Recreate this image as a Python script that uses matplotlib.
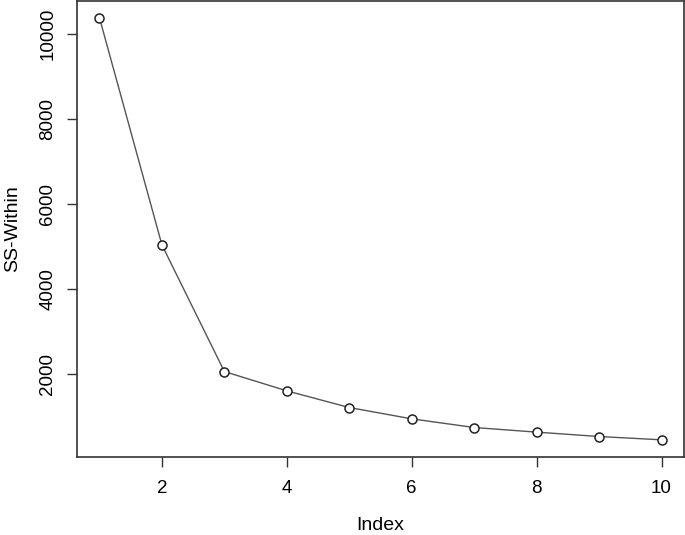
import matplotlib
matplotlib.use("Agg")
import matplotlib.pyplot as plt

plt.rcParams['font.family'] = ['Liberation Sans', 'DejaVu Sans']

index = [1, 2, 3, 4, 5, 6, 7, 8, 9, 10]
ss_within = [10380, 5035, 2054, 1600, 1207, 941, 737, 628, 525, 447]
xticks = [2, 4, 6, 8, 10]
yticks = [2000, 4000, 6000, 8000, 10000]

fig = plt.figure(figsize=(6.85, 5.35), dpi=100)
ax = fig.add_axes([77/685, 1 - 456.7/535, (684-77)/685, (456.7-1)/535])

ax.plot(index, ss_within, color='#555555', lw=1.0, zorder=2)
ax.plot(index, ss_within, 'o', ms=6.5, mfc='white', mec='#222222', mew=1.1, zorder=3)

xr = max(index) - min(index)
ax.set_xlim(min(index) - 0.04 * xr, max(index) + 0.04 * xr)
yr = max(ss_within) - min(ss_within)
ax.set_ylim(min(ss_within) - 0.04 * yr, max(ss_within) + 0.04 * yr)

ax.set_xticks(xticks)
ax.set_yticks(yticks)
ax.set_xticklabels([str(t) for t in xticks], fontsize=13.5)
ax.set_yticklabels([str(t) for t in yticks], fontsize=13.5, rotation=90, va='center')
ax.tick_params(axis='x', direction='out', length=7, width=1, color='#333333', pad=10)
ax.tick_params(axis='y', direction='out', length=7, width=1, color='#333333', pad=8)

for s in ax.spines.values():
    s.set_color('#333333')
    s.set_linewidth(1.2)

ax.set_xlabel('Index', fontsize=14, labelpad=14)
ax.set_ylabel('SS-Within', fontsize=14, labelpad=13)

fig.savefig('out.png', dpi=100)
